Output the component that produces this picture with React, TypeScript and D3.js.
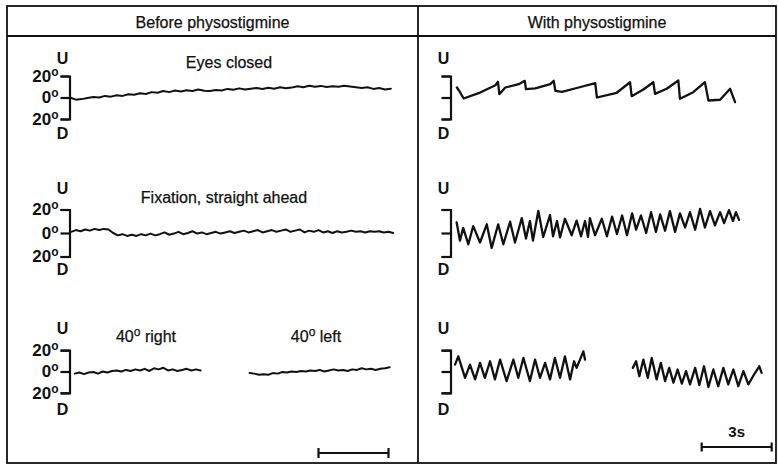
import React, {useEffect, useRef} from 'react';
import * as d3 from 'd3';

const panelTitles = ['Before physostigmine', 'With physostigmine'];
const conditionLabels = ['Eyes closed', 'Fixation, straight ahead'];
const gazeLabels = ['40° right', '40° left'];
const degreeTicks = [-20, 0, 20];
const scaleBarSeconds = 3;
const scaleBarLabel = '3s';

// before physostigmine: evenly sampled traces (seconds, degrees up)
const beforeClosedStart = 0;
const beforeClosedStep = 0.25;
const beforeClosedDeg = [
  0, -2, -1.5, -0.5, 0.5, 0, 1.5, 0.8, 2, 1.5, 3, 2.5, 4, 3.2, 5, 4.5, 6, 5, 6.5, 5.5,
  6.8, 6, 7.5, 6.2, 6, 7, 6.5, 8, 7.2, 8.5, 7.5, 8.2, 8.8, 8, 9, 8.2, 9.5, 8.6, 9.2, 10.5,
  9.6, 11, 10, 10.8, 9.8, 10.5, 10, 11, 10.2, 9.5, 8.8, 9.5, 8, 8.8, 7.5, 8.2,
];

const beforeFixationStart = 0.05;
const beforeFixationStep = 0.2;
const beforeFixationDeg = [
  1, 2.5, 1.5, 3, 2, 3.5, 2.5, 3.5, 3, 0, -2, -1, -2.5, -1.5, -2.5, -1, -2, -0.5, -2, -1,
  0.5, -1.5, -0.5, 1, -1, 0, 1.5, -0.5, 0.5, -1, 0, 1, -0.5, 0.5, 1.5, 0, 1, 2, 0.5, 1.5,
  2.5, 0.5, 1.5, 2.5, 1, 2, 3, 1, 2, 3, 0.5, 2, 1, 2.5, 0.5, 1.5, 0, 1.5, 0.5, 1,
  2, 1, 1.5, 0.5, 1.5, 1, 1.5, 0.5, 1, 0,
];

const beforeRightStart = 0.2;
const beforeRightStep = 0.2;
const beforeRightDeg = [
  -2, -1, -2.5, -1, -0.5, -2, 0, -1, 0.5, 1, 0, 1.5, 0.5, 2, 1, 2.5, 0.5, 3, 2, 3.5,
  1, 2, 0.5, 1.5, 2.5, 1, 2, 1,
];

const beforeLeftStart = 7.7;
const beforeLeftStep = 0.2;
const beforeLeftDeg = [
  -1.5, -2, -3, -2.5, -3, -1.5, -2, -0.5, -1, 0, -0.5, 0.5, 0, 1, 0.5, 1.5, 0, 1, 2, 1,
  1.5, 0.5, 2, 1.5, 3, 2, 2.5, 1.5, 2.5, 3, 4,
];

// with physostigmine: nystagmus traces as [seconds, degrees up]
const withClosed: [number, number][] = [
  [0.21, 9.3], [0.31, 6.2], [0.5, -0.9], [1.14, 4.0], [1.86, 11.4], [1.97, 14.6], [2.03, 3.1],
  [2.28, 9.3], [2.86, 12.4], [3.12, 15.5], [3.17, 7.7], [3.57, 8.4], [4.21, 12.4], [4.36, 15.5],
  [4.43, 6.2], [4.71, 5.3], [5.43, 9.3], [6.14, 13.3], [6.21, 0], [7.06, 4.4], [7.63, 14.2],
  [7.7, 1.2], [8.2, 7.4], [8.63, 14.2], [8.7, 3.4], [9.2, 8.1], [9.7, 15.8], [9.77, -1.2],
  [10.34, 4.9], [10.84, 14.2], [10.99, -2.8], [11.49, -2.1], [11.92, 8.1], [12.13, -4.4],
];

const withFixation: [number, number][] = [
  [0.2, 9.0], [0.34, -6.5], [0.48, 4.4], [0.7, -9.6], [0.91, 5.9], [1.2, -8.1], [1.49, 7.4],
  [1.7, -12.7], [1.98, 7.4], [2.2, -9.6], [2.49, 9.6], [2.7, -8.1], [2.99, 12.7], [3.17, -4.7],
  [3.34, 10.2], [3.47, -6.5], [3.7, 18.9], [3.91, -3.4], [4.2, 15.2], [4.33, -2.8], [4.5, 10.2],
  [4.63, -3.7], [4.84, 12.1], [5.13, -1.9], [5.34, 10.5], [5.53, -2.8], [5.7, 10.2], [5.83, -3.4],
  [5.91, 12.7], [6.13, -1.9], [6.42, 12.1], [6.64, -2.8], [6.86, 14.0], [7.07, -0.9], [7.29, 14.9],
  [7.5, -1.9], [7.72, 16.7], [7.89, 2.8], [8.1, 14.9], [8.32, 0], [8.53, 17.7], [8.74, 0.9],
  [8.92, 15.8], [9.13, 1.9], [9.34, 18.6], [9.56, 0.9], [9.77, 16.7], [9.99, 4.7], [10.2, 17.7],
  [10.42, 2.8], [10.63, 20.5], [10.84, 4.7], [11.06, 18.6], [11.27, 6.5], [11.49, 17.7],
  [11.66, 8.4], [11.87, 19.5], [12.04, 10.2], [12.17, 17.7], [12.3, 11.2],
];

const withRight: [number, number][] = [
  [0.13, 6.5], [0.27, 14.2], [0.56, -5.9], [0.77, 6.5], [0.99, -7.4], [1.2, 8.1], [1.41, -5.9],
  [1.63, 9.6], [1.84, -7.4], [2.06, 11.2], [2.34, -9.0], [2.63, 11.2], [2.84, -5.9], [3.06, 12.7],
  [3.34, -9.0], [3.56, 11.2], [3.77, -5.9], [3.99, 8.1], [4.2, -7.4], [4.41, 12.7], [4.63, -5.9],
  [4.84, 14.2], [5.06, -7.4], [5.23, 9.6], [5.34, 3.4], [5.63, 18.9], [5.7, 11.2],
];

const withLeft: [number, number][] = [
  [7.75, 3.4], [7.89, 9.6], [8.03, -4.4], [8.2, 11.2], [8.39, -5.9], [8.56, 12.7], [8.77, -7.4],
  [8.95, 8.1], [9.13, -9.0], [9.31, 3.4], [9.49, -10.5], [9.67, 1.9], [9.85, -11.4], [10.03, 0.3],
  [10.2, -12.1], [10.42, 3.4], [10.6, -12.7], [10.8, 4.9], [10.99, -14.6], [11.2, 1.9],
  [11.41, -13.7], [11.63, 3.4], [11.84, -12.1], [12.06, 1.9], [12.27, -13.7], [12.49, 0.3],
  [12.7, -12.1], [12.99, -1.2], [13.17, 4.9], [13.27, -1.2],
];

const sampled = (start: number, step: number, deg: number[]): [number, number][] =>
  deg.map((d, i) => [start + i * step, d]);

// write "40° right" with the degree sign set as a small raised "o", like the original typesetting
const degreeText = (sel: any, label: string, supSize: number) => {
  const [a, b] = label.split('°');
  sel.text(null);
  sel.append('tspan').text(a);
  sel.append('tspan').attr('font-size', supSize).attr('dy', -supSize * 0.5).text('o');
  if (b) sel.append('tspan').attr('dy', supSize * 0.5).text(b);
};

export default function App() {
  const ref = useRef<SVGSVGElement>(null);

  useEffect(() => {
    const svg = d3.select(ref.current);
    svg.selectAll('*').remove();

    const W = 778, H = 466;
    const frame = {left: 7, top: 6, right: 776, bottom: 463, header: 36, split: 418};
    const pxPerSec = 70 / scaleBarSeconds;
    const font = '"Liberation Sans", Arial, Helvetica, sans-serif';
    const ink = '#111';

    svg.append('rect').attr('width', W).attr('height', H).attr('fill', '#fff');

    // frame + header
    svg.append('rect')
      .attr('x', frame.left).attr('y', frame.top)
      .attr('width', frame.right - frame.left).attr('height', frame.bottom - frame.top)
      .attr('fill', 'none').attr('stroke', ink).attr('stroke-width', 1.8);
    svg.append('line')
      .attr('x1', frame.left).attr('x2', frame.right)
      .attr('y1', frame.header).attr('y2', frame.header)
      .attr('stroke', ink).attr('stroke-width', 1.8);
    svg.append('line')
      .attr('x1', frame.split).attr('x2', frame.split)
      .attr('y1', frame.top).attr('y2', frame.bottom)
      .attr('stroke', ink).attr('stroke-width', 1.8);

    svg.selectAll('.panel-title')
      .data(panelTitles)
      .enter().append('text')
      .attr('x', (d, i) => i === 0 ? (frame.left + frame.split) / 2 : (frame.split + frame.right) / 2)
      .attr('y', 27.5)
      .attr('text-anchor', 'middle')
      .attr('font-family', font)
      .attr('font-size', 16)
      .attr('fill', ink)
      .attr('stroke', ink).attr('stroke-width', 0.25)
      .text(d => d);

    const rows = [
      {c: 97.5, h: 21.5, u: 64, d: 139},
      {c: 233, h: 23.5, u: 194, d: 275},
      {c: 371.5, h: 21.3, u: 334, d: 415},
    ];
    const panels = [
      {axisX: 69.5, t0: 70, labels: true},
      {axisX: 450.5, t0: 452, labels: false},
    ];

    const xScales = panels.map(p => d3.scaleLinear().domain([0, 14]).range([p.t0, p.t0 + 14 * pxPerSec]));
    const yScales = rows.map(r => d3.scaleLinear().domain([-20, 20]).range([r.c + r.h, r.c - r.h]));

    panels.forEach(p => {
      rows.forEach((r, ri) => {
        const axis = d3.axisLeft(yScales[ri])
          .tickValues(degreeTicks)
          .tickSizeInner(9)
          .tickSizeOuter(9)
          .tickPadding(2)
          .tickFormat(d => p.labels ? `${Math.abs(+d)}°` : '');
        const ag = svg.append('g').attr('transform', `translate(${p.axisX},0)`).call(axis);
        ag.select('.domain').attr('stroke', ink).attr('stroke-width', 2.2);
        ag.selectAll('.tick line').attr('stroke', ink).attr('stroke-width', 2.2);
        ag.selectAll('.tick text')
          .attr('font-family', font).attr('font-weight', 'bold')
          .attr('font-size', 17).attr('fill', ink)
          .each(function () {
            const t = d3.select(this);
            const s = t.text();
            if (s) degreeText(t, s, 12);
          });

        [['U', r.u], ['D', r.d]].forEach(([lab, y]) => {
          svg.append('text')
            .attr('x', p.axisX - 7).attr('y', y as number)
            .attr('text-anchor', 'middle')
            .attr('font-family', font).attr('font-weight', 'bold')
            .attr('font-size', 16).attr('fill', ink)
            .text(lab as string);
        });
      });
    });

    // condition labels (left panel)
    const labelFont = (sel: any) => sel
      .attr('text-anchor', 'middle').attr('font-family', font)
      .attr('font-size', 16).attr('fill', ink)
      .attr('stroke', ink).attr('stroke-width', 0.25);
    svg.append('text').attr('x', 229).attr('y', 68).call(labelFont).text(conditionLabels[0]);
    svg.append('text').attr('x', 224).attr('y', 203).call(labelFont).text(conditionLabels[1]);
    svg.append('text').attr('x', 146).attr('y', 342).call(labelFont).call((s: any) => degreeText(s, gazeLabels[0], 12));
    svg.append('text').attr('x', 316).attr('y', 342).call(labelFont).call((s: any) => degreeText(s, gazeLabels[1], 12));

    const traces: {panel: number, row: number, pts: [number, number][]}[] = [
      {panel: 0, row: 0, pts: sampled(beforeClosedStart, beforeClosedStep, beforeClosedDeg)},
      {panel: 0, row: 1, pts: sampled(beforeFixationStart, beforeFixationStep, beforeFixationDeg)},
      {panel: 0, row: 2, pts: sampled(beforeRightStart, beforeRightStep, beforeRightDeg)},
      {panel: 0, row: 2, pts: sampled(beforeLeftStart, beforeLeftStep, beforeLeftDeg)},
      {panel: 1, row: 0, pts: withClosed},
      {panel: 1, row: 1, pts: withFixation},
      {panel: 1, row: 2, pts: withRight},
      {panel: 1, row: 2, pts: withLeft},
    ];

    traces.forEach(tr => {
      const x = xScales[tr.panel];
      const y = yScales[tr.row];
      const line = d3.line<[number, number]>().x(d => x(d[0])).y(d => y(d[1]));
      svg.append('path')
        .attr('d', line(tr.pts))
        .attr('fill', 'none')
        .attr('stroke', ink)
        .attr('stroke-width', tr.panel === 0 ? 2 : 2.3)
        .attr('stroke-linejoin', 'round')
        .attr('stroke-linecap', 'round');
    });

    // 3 s scale bars
    const bars = [
      {panel: 0, t: 10.65, y: 453, cap: 5, label: false},
      {panel: 1, t: 10.7, y: 447, cap: 4.5, label: true},
    ];
    bars.forEach(b => {
      const x = xScales[b.panel];
      const x1 = x(b.t), x2 = x(b.t + scaleBarSeconds);
      const bg = svg.append('g').attr('stroke', ink).attr('stroke-width', 2.2);
      bg.append('line').attr('x1', x1).attr('x2', x2).attr('y1', b.y).attr('y2', b.y);
      bg.append('line').attr('x1', x1).attr('x2', x1).attr('y1', b.y - b.cap).attr('y2', b.y + b.cap);
      bg.append('line').attr('x1', x2).attr('x2', x2).attr('y1', b.y - b.cap).attr('y2', b.y + b.cap);
      if (b.label) {
        svg.append('text')
          .attr('x', (x1 + x2) / 2).attr('y', b.y - 10)
          .attr('text-anchor', 'middle')
          .attr('font-family', font).attr('font-weight', 'bold')
          .attr('font-size', 15).attr('fill', ink)
          .text(scaleBarLabel);
      }
    });
  }, []);

  return <svg ref={ref} width={778} height={466} style={{position: 'absolute', left: 0, top: 0}}></svg>;
}
